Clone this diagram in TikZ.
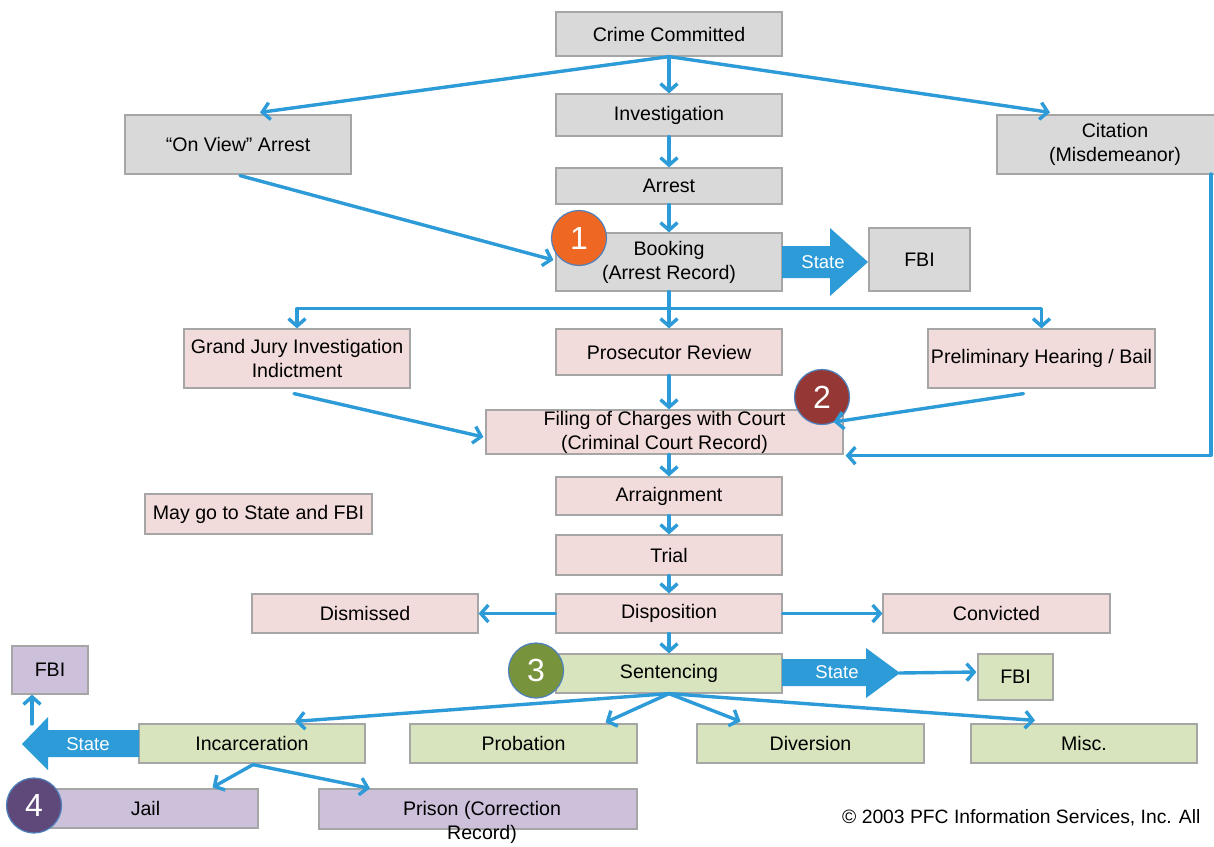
\documentclass[tikz,border=0pt]{standalone}
\usepackage{fontspec}
\setmainfont{Liberation Sans}
\usetikzlibrary{arrows.meta,calc}
\definecolor{conn}{RGB}{44,155,215}
\definecolor{gfill}{RGB}{217,217,217}
\definecolor{gline}{RGB}{166,166,166}
\definecolor{pfill}{RGB}{242,220,219}
\definecolor{gnfill}{RGB}{215,228,189}
\definecolor{pufill}{RGB}{204,192,218}
\definecolor{cone}{RGB}{238,104,36}
\definecolor{ctwo}{RGB}{149,55,53}
\definecolor{cthree}{RGB}{119,147,60}
\definecolor{cfour}{RGB}{95,73,122}
\definecolor{cedge}{RGB}{79,129,189}
\tikzset{
  box/.style={draw=gline, line width=1.2pt, inner sep=0pt, align=center, font=\fontsize{19.6}{24}\selectfont, text=black},
  gbox/.style={box, fill=gfill},
  pbox/.style={box, fill=pfill},
  grbox/.style={box, fill=gnfill},
  pubox/.style={box, fill=pufill},
  link/.style={draw=conn, line width=3.4pt, line cap=round, line join=round, -{Straight Barb[length=7.5pt,width=17pt]}},
  plainlink/.style={draw=conn, line width=3.4pt, line cap=round, line join=round},
  badge/.style={circle, minimum size=55pt, inner sep=0pt, draw=cedge, line width=1.2pt, text=white, font=\fontsize{32}{32}\selectfont},
  bigflow/.style={fill=conn},
  flowtext/.style={text=white, font=\fontsize{18.5}{18.5}\selectfont, inner sep=0pt}
}
\begin{document}
\begin{tikzpicture}[x=1pt,y=-1pt]
\useasboundingbox (0,0) rectangle (1214,846);
\clip (0,0) rectangle (1214,846);
\fill[white] (0,0) rectangle (1214,846);

% gray boxes
\node[gbox, minimum width=226pt, minimum height=44pt] (crime) at (669,34) {Crime Committed};
\node[gbox, minimum width=226pt, minimum height=42pt] (invest) at (669,115) {Investigation};
\node[gbox, minimum width=226pt, minimum height=36pt] (arrest) at (669,186) {Arrest};
\node[gbox, minimum width=226pt, minimum height=59pt] (onview) at (238,144.5) {“On View” Arrest};
\node[gbox, minimum width=236pt, minimum height=59pt] (citation) at (1115,144.5) {Citation\\(Misdemeanor)};
\node[gbox, minimum width=226pt, minimum height=58pt] (booking) at (669,262) {Booking\\(Arrest Record)};
\node[gbox, minimum width=101pt, minimum height=63pt] (fbia) at (919.5,259.5) {FBI};

% pink boxes
\node[pbox, minimum width=226pt, minimum height=59pt] (grand) at (297,358.5) {Grand Jury Investigation\\Indictment};
\node[pbox, minimum width=226pt, minimum height=46pt] (prosec) at (669,352) {Prosecutor Review};
\node[pbox, minimum width=227pt, minimum height=59pt] (prelim) at (1041.5,358.5) {Preliminary Hearing / Bail};
\node[pbox, minimum width=357pt, minimum height=44pt] (filing) at (664.5,432) {Filing of Charges with Court\\(Criminal Court Record)};
\node[pbox, minimum width=227pt, minimum height=40pt] (maygo) at (258.5,514) {May go to State and FBI};
\node[pbox, minimum width=226pt, minimum height=38pt] (arraign) at (669,496) {Arraignment};
\node[pbox, minimum width=226pt, minimum height=40pt] (trial) at (669,555) {Trial};
\node[pbox, minimum width=226pt, minimum height=39pt] (dispo) at (669,613.5) {Disposition};
\node[pbox, minimum width=226pt, minimum height=39pt] (dismissed) at (365,613.5) {Dismissed};
\node[pbox, minimum width=227pt, minimum height=39pt] (convicted) at (996.5,613.5) {Convicted};

% green boxes
\node[grbox, minimum width=226pt, minimum height=39pt] (sentencing) at (669,673.5) {Sentencing};
\node[grbox, minimum width=75pt, minimum height=46pt] (fbib) at (1015.5,677) {FBI};
\node[grbox, minimum width=226pt, minimum height=39pt] (incarc) at (252,743.5) {Incarceration};
\node[grbox, minimum width=227pt, minimum height=39pt] (probation) at (523.5,743.5) {Probation};
\node[grbox, minimum width=227pt, minimum height=39pt] (diversion) at (810.5,743.5) {Diversion};
\node[grbox, minimum width=226pt, minimum height=39pt] (misc) at (1084,743.5) {Misc.};

% purple boxes
\node[pubox, minimum width=76pt, minimum height=48pt] (fbic) at (50,670) {FBI};
\node[pubox, minimum width=225pt, minimum height=39pt] (jail) at (145.5,808.5) {Jail};
\node[pubox, minimum width=318pt, minimum height=40pt] (prison) at (478,809) {};
\node[align=center, inner sep=0pt, font=\fontsize{19.6}{24}\selectfont] (prisonlbl) at (482,822) {Prison (Correction\\Record)};

% big "State" arrows
\fill[bigflow] (782,246) -- (830,246) -- (830,228) -- (868,262) -- (830,296) -- (830,278) -- (782,278) -- cycle;
\node[flowtext] (statea) at (823,262) {State};
\fill[bigflow] (782,659) -- (866,659) -- (866,648) -- (900,673) -- (866,698) -- (866,686) -- (782,686) -- cycle;
\node[flowtext] (stateb) at (837,672) {State};
\coordinate (tipb) at (899,673);
\fill[bigflow] (139,730) -- (48,730) -- (48,717) -- (22,744) -- (48,770) -- (48,757) -- (139,757) -- cycle;
\node[flowtext] (statec) at (88,744) {State};

% badges
\node[badge, fill=cone] (bone) at (579,238) {1};
\node[badge, fill=ctwo] (btwo) at (822,397) {2};
\node[badge, fill=cthree] (bthree) at (536,670.5) {3};
\node[badge, fill=cfour] (bfour) at (34,805.5) {4};

% connectors
\draw[link] (crime.south) -- (invest.north);
\draw[link] (crime.south) -- ($(onview.north)+(22,-2)$);
\draw[link] (crime.south) -- ($(citation.north)+(-65,-2)$);
\draw[link] (invest.south) -- (arrest.north);
\draw[link] (arrest.south) -- (booking.north);
\draw[link] ($(onview.south)+(2,1)$) -- ($(booking.west)+(-2,-2)$);
\draw[plainlink] (booking.south) -- ++(0,17) coordinate (bus);
\draw[link] (bus) -| (grand.north);
\draw[link] (bus) -| (prelim.north);
\draw[link] (bus) -- (prosec.north);
\draw[link] ($(grand.south)+(-3,5)$) -- ($(filing.west)+(-2,5)$);
\draw[link] (prosec.south) -- (prosec.south |- filing.north);
\draw[link] ($(prelim.south)+(-18,5)$) -- ($(filing.east)+(-10,-10)$);
\coordinate (citout) at (1211,174);
\draw[link] (citout) |- ($(filing.south east)+(2,1)$);
\draw[link] (arraign.north |- filing.south) -- (arraign.north);
\draw[link] (arraign.south) -- (trial.north);
\draw[link] (trial.south) -- (dispo.north);
\draw[link] (dispo.west) -- (dismissed.east);
\draw[link] (dispo.east) -- (convicted.west);
\draw[link] (dispo.south) -- (sentencing.north);
\draw[link] (sentencing.south) -- ($(incarc.north)+(43,-2)$);
\draw[link] (sentencing.south) -- ($(probation.north)+(82,-1)$);
\draw[link] (sentencing.south) -- ($(diversion.north)+(-70,-2)$);
\draw[link] (sentencing.south) -- ($(misc.north)+(-49,-3)$);
\draw[link] ($(incarc.south)+(1,1)$) -- ($(jail.north)+(67,-1)$);
\draw[link] ($(incarc.south)+(1,1)$) -- ($(prison.north)+(-108,0)$);
\draw[link] (tipb) -- ($(fbib.west)+(-1,-5)$);
\coordinate (upstart) at (32,724);
\draw[link] (upstart) -- (fbic.south -| upstart);

% copyright
\node[anchor=west, inner sep=0pt, font=\fontsize{19.3}{19.3}\selectfont] (copy) at (842,818) {© 2003 PFC Information Services, Inc. All};
\end{tikzpicture}
\end{document}
